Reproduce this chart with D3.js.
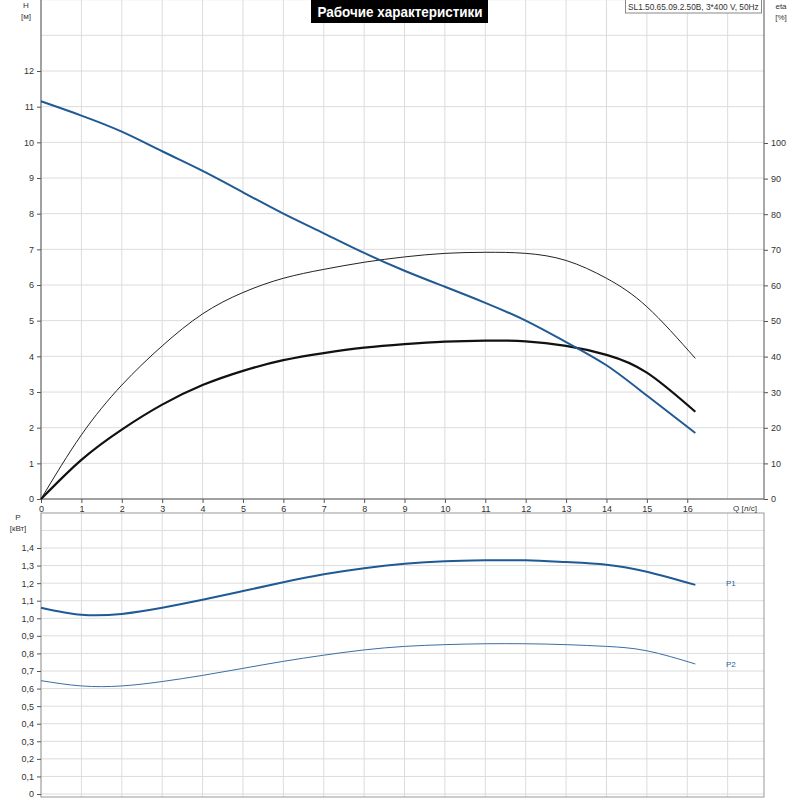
<!DOCTYPE html>
<html><head><meta charset="utf-8">
<script src="https://cdn.jsdelivr.net/npm/d3@7"></script>
<style>body{margin:0;background:#fff}text{font-family:"Liberation Sans",Arial,sans-serif}</style>
</head><body><svg id="chart" width="800" height="800"></svg>
<script>
const qValues = [0,1,2,3,4,5,6,7,8,9,10,11,12,13,14,15,16.2];
const headH = [11.15,10.75,10.3,9.75,9.2,8.6,8.0,7.45,6.9,6.4,5.95,5.5,5.0,4.4,3.75,2.9,1.85];
const etaPump = [0,18,32,43,52,58,62,64.5,66.5,68,69,69.3,69,67,62,54,39.5];
const etaTotal = [0,11,19.5,26.5,32,36,39,41,42.5,43.5,44.2,44.5,44.3,43,40.5,35.5,24.5];
const powerP1 = [1.06,1.02,1.025,1.06,1.105,1.155,1.205,1.25,1.285,1.31,1.325,1.33,1.33,1.32,1.305,1.265,1.19];
const powerP2 = [0.645,0.615,0.615,0.64,0.675,0.715,0.755,0.79,0.82,0.84,0.85,0.855,0.855,0.85,0.84,0.815,0.74];
const qTicks = d3.range(0,17);
const hTicks = d3.range(0,13);
const etaTicks = d3.range(0,101,10);
const pTicks = d3.range(0,15).map(d=>d/10);

const svg = d3.select("#chart");
const left = 41, right = 764;
const x = d3.scaleLinear().domain([0,17.9]).range([left,right]);
const yH = d3.scaleLinear().domain([0,12]).range([499,71]);
const yEta = d3.scaleLinear().domain([0,100]).range([499,143]);
const yP = d3.scaleLinear().domain([0,1.4]).range([794,548]);
const grid = "#dcdcdc";

// top panel grid
d3.range(0,18).forEach(q=>svg.append("line").attr("x1",x(q)).attr("x2",x(q)).attr("y1",0).attr("y2",499).attr("stroke",grid));
d3.range(0,15).forEach(h=>svg.append("line").attr("x1",left).attr("x2",right).attr("y1",yH(h)).attr("y2",yH(h)).attr("stroke",grid));
// bottom panel grid
d3.range(0,18).forEach(q=>svg.append("line").attr("x1",x(q)).attr("x2",x(q)).attr("y1",513).attr("y2",797).attr("stroke",grid));
d3.range(0,16).forEach(p=>svg.append("line").attr("x1",left).attr("x2",right).attr("y1",yP(p/10)).attr("y2",yP(p/10)).attr("stroke",grid));
svg.append("rect").attr("x",left).attr("y",513).attr("width",right-left).attr("height",284).attr("fill","none").attr("stroke","#999");

function styleAxis(g){g.selectAll("path,line").attr("stroke","#555");g.selectAll("text").attr("font-size",9).attr("fill","#333");}
svg.append("g").attr("transform","translate(0,499)").call(d3.axisBottom(x).tickValues(qTicks).tickSize(4).tickFormat(d3.format("d"))).call(styleAxis).call(g=>g.select(".domain").remove());
svg.append("line").attr("x1",left).attr("x2",right).attr("y1",499).attr("y2",499).attr("stroke","#555");
svg.append("g").attr("transform",`translate(${left},0)`).call(d3.axisLeft(yH).tickValues(hTicks).tickSize(4)).call(styleAxis).call(g=>g.select(".domain").attr("d","M0,0V499"));
svg.append("g").attr("transform",`translate(${right},0)`).call(d3.axisRight(yEta).tickValues(etaTicks).tickSize(4)).call(styleAxis).call(g=>g.select(".domain").attr("d","M0,0V499"));
svg.append("g").attr("transform",`translate(${left},0)`).call(d3.axisLeft(yP).tickValues(pTicks).tickSize(4).tickFormat(d=>d===0?"0":d3.format(".1f")(d).replace(".",","))).call(styleAxis).call(g=>g.select(".domain").remove());

const lbl=(t,xx,yy,a)=>svg.append("text").attr("x",xx).attr("y",yy).attr("font-size",8).attr("fill","#333").attr("text-anchor",a||"middle").text(t);
lbl("H",26,8);lbl("[м]",26,19);lbl("eta",781,9);lbl("[%]",781,20);
lbl("Q [л/с]",745,511);lbl("P",18,520);lbl("[кВт]",18,531);

const line = (y,vals)=>d3.line().curve(d3.curveNatural).x((d,i)=>x(qValues[i])).y(d=>y(d))(vals);
svg.append("path").attr("d",line(yEta,etaPump)).attr("fill","none").attr("stroke","#222").attr("stroke-width",1);
svg.append("path").attr("d",line(yEta,etaTotal)).attr("fill","none").attr("stroke","#111").attr("stroke-width",2.2);
svg.append("path").attr("d",line(yH,headH)).attr("fill","none").attr("stroke","#1f5a94").attr("stroke-width",2);
svg.append("path").attr("d",line(yP,powerP1)).attr("fill","none").attr("stroke","#1f5a94").attr("stroke-width",2);
svg.append("path").attr("d",line(yP,powerP2)).attr("fill","none").attr("stroke","#3a6ea5").attr("stroke-width",1);
svg.append("text").attr("x",726).attr("y",yP(1.2)+3).attr("font-size",8).attr("fill","#2a62a0").text("P1");
svg.append("text").attr("x",726).attr("y",yP(0.74)+3).attr("font-size",8).attr("fill","#2a62a0").text("P2");

svg.append("rect").attr("x",311).attr("y",0).attr("width",177).attr("height",23).attr("fill","#000");
svg.append("text").attr("x",400).attr("y",17).attr("text-anchor","middle").attr("font-size",14).attr("font-weight","bold").attr("fill","#fff")
  .attr("textLength",165).attr("lengthAdjust","spacingAndGlyphs").text("Рабочие характеристики");
svg.append("rect").attr("x",625.5).attr("y",-1).attr("width",136).attr("height",14).attr("fill","#fff").attr("stroke","#888");
svg.append("text").attr("x",628).attr("y",9.5).attr("font-size",8.3).attr("fill","#333").text("SL1.50.65.09.2.50B, 3*400 V, 50Hz");
</script></body></html>
